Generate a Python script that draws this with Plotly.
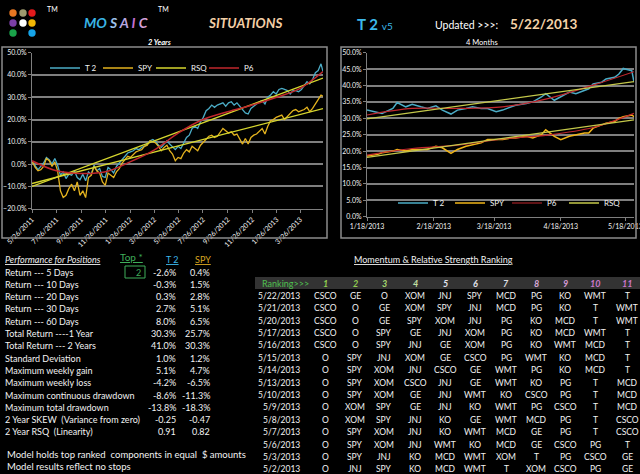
import pandas as pd
import plotly.graph_objects as go

W, H = 640, 474


def px(x):
    return x / W


def py(y):
    return 1 - y / H


# ---------------- data: 2 year chart (weekly, Fridays + last day) ----------------
t2_2y = [1.0,
         -1.0, -2.5, -1.0, 0.5,
         3.0, 2.0, 0.0, 2.5, -0.5,
         -5.0, -3.5, -6.5, -4.5,
         -5.0, -3.0, -6.0, -7.0, -4.5,
         -7.5, -3.5, -4.5, -0.5,
         -3.0, -2.0, -5.5, -6.0,
         -1.5, -2.5, -4.0, -1.0, 0.5,
         2.0, 3.5, 5.0, 5.5,
         6.0, 7.0, 6.5, 7.5,
         8.0, 9.0, 10.5, 11.0, 10.0,
         8.5, 7.5, 9.0, 10.5,
         9.0, 7.5, 6.5, 8.0,
         7.0, 9.5, 12.0, 13.0, 16.0,
         17.0, 16.0, 19.0, 21.0,
         24.0, 25.0, 26.5, 25.5, 26.5,
         27.0, 27.5, 26.0, 27.5,
         28.0, 26.5, 27.5, 26.0,
         25.0, 23.0, 22.5, 25.0, 26.0,
         27.0, 28.0, 28.5, 27.0,
         30.0, 31.0, 32.5, 31.5,
         33.5, 34.0, 33.5, 33.0,
         31.5, 33.0, 33.0, 32.5, 33.5,
         35.0, 37.0, 36.0, 38.0,
         41.0, 42.0, 45.0,
         41.5]
spy_2y = [1.0,
          -1.5, -3.0, -2.5, -1.0,
          2.5, 1.5, -1.0, 1.0, -3.0,
          -12.0, -15.0, -14.0, -11.0,
          -9.0, -12.0, -8.0, -14.0, -12.0,
          -15.0, -6.0, -5.0, -1.0,
          -3.0, -4.0, -8.0, -9.5,
          -4.0, -5.0, -6.0, -3.5, -2.0,
          0.5, 2.0, 3.5, 3.0,
          4.5, 5.5, 6.0, 6.5,
          8.0, 8.5, 10.5, 10.0, 9.5,
          8.0, 6.0, 7.5, 8.5,
          6.0, 4.5, 1.5, 3.0,
          2.5, 5.0, 6.5, 5.5, 8.0,
          7.0, 6.0, 8.5, 10.0,
          11.0, 12.5, 13.0, 12.0, 12.5,
          14.0, 16.0, 15.0, 14.0,
          14.5, 13.0, 13.5, 11.0,
          9.0, 11.5, 9.0, 12.0, 13.0,
          13.5, 15.0, 16.0, 13.5,
          17.0, 19.5, 20.0, 21.0,
          21.5, 22.0, 20.0, 21.5,
          23.0, 24.0, 24.5, 23.5, 24.0,
          24.5, 25.5, 23.5, 25.0,
          27.0, 29.0, 31.0,
          30.5]
dates_2y = list(pd.date_range("2011-05-27", periods=len(t2_2y) - 1, freq="W-FRI")) + [pd.Timestamp("2013-05-22")]

p6_2y_dates = ["2011-05-26", "2011-07-26", "2011-09-26", "2011-11-26", "2012-01-26", "2012-03-26", "2012-05-26",
               "2012-07-26", "2012-09-26", "2012-11-26", "2013-01-26", "2013-03-26", "2013-05-22"]
p6_2y = [1.5, -3.0, -4.2, -3.4, 1.0, 6.3, 14.0, 20.0, 23.5, 26.5, 30.0, 34.0, 41.5]

rsq_2y_dates = ["2011-05-26", "2013-05-22"]
rsq_t2_2y = [-10.0, 38.6]
rsq_spy_2y = [-8.7, 24.9]

ticks_2y = ["2011-05-26", "2011-07-26", "2011-09-26", "2011-11-26", "2012-01-26", "2012-03-26",
            "2012-05-26", "2012-07-26", "2012-09-26", "2012-11-26", "2013-01-26", "2013-03-26"]
ticklabels_2y = ["5/26/2011", "7/26/2011", "9/26/2011", "11/26/2011", "1/26/2012", "3/26/2012",
                 "5/26/2012", "7/26/2012", "9/26/2012", "11/26/2012", "1/26/2013", "3/26/2013"]

# ---------------- data: 4 month chart ----------------
dates_4m = ["2013-01-18", "2013-01-23", "2013-01-25", "2013-01-30", "2013-02-01", "2013-02-05", "2013-02-08",
            "2013-02-12", "2013-02-15", "2013-02-19", "2013-02-22", "2013-02-26", "2013-03-01", "2013-03-05",
            "2013-03-08", "2013-03-12", "2013-03-15", "2013-03-19", "2013-03-22", "2013-03-26", "2013-03-28",
            "2013-04-02", "2013-04-05", "2013-04-09", "2013-04-11", "2013-04-15", "2013-04-18", "2013-04-22",
            "2013-04-25", "2013-04-29", "2013-05-01", "2013-05-03", "2013-05-07", "2013-05-09", "2013-05-13",
            "2013-05-15", "2013-05-17", "2013-05-21", "2013-05-22"]
t2_4m = [32.5, 31.7, 31.5, 33.0, 34.8, 33.5, 34.3, 33.5, 33.0, 33.8, 32.5, 31.3, 32.5, 33.0, 33.5, 33.0,
         33.0, 32.0, 32.5, 33.5, 34.0, 34.5, 35.0, 36.5, 37.5, 35.5, 36.5, 38.0, 37.5, 38.5, 39.0, 40.5,
         41.0, 42.0, 42.5, 43.5, 45.2, 44.5, 41.0]
spy_4m = [18.5, 19.0, 19.5, 20.0, 20.5, 20.0, 20.5, 20.5, 20.5, 21.5, 21.0, 19.3, 20.5, 21.5, 22.0, 22.5,
          23.5, 23.5, 23.5, 24.0, 24.0, 24.5, 24.0, 25.0, 26.5, 24.5, 23.5, 24.5, 25.0, 25.5, 25.5, 27.0,
          28.0, 28.5, 29.0, 30.0, 30.5, 31.0, 30.5]

p6_4m_dates = ["2013-01-18", "2013-02-08", "2013-03-01", "2013-03-22", "2013-04-12", "2013-05-03", "2013-05-22"]
p6_t2_4m = [31.0, 33.0, 33.0, 33.5, 36.0, 40.1, 44.2]
p6_spy_4m = [18.8, 20.8, 21.8, 23.7, 24.9, 27.2, 31.5]

rsq_4m_dates = ["2013-01-18", "2013-05-22"]
rsq_t2_4m = [29.8, 41.2]
rsq_spy_4m = [18.1, 29.5]

ticks_4m = ["2013-01-18", "2013-02-18", "2013-03-18", "2013-04-18", "2013-05-18"]
ticklabels_4m = ["1/18/2013", "2/18/2013", "3/18/2013", "4/18/2013", "5/18/2013"]

# ---------------- data: performance table ----------------
perf_labels = ["Return --- 5 Days", "Return --- 10 Days", "Return --- 20 Days", "Return --- 30 Days",
               "Return --- 60 Days", "Total Return ----1 Year", "Total Return --- 2 Years", "Standard Deviation",
               "Maximum weekly gain", "Maximum weekly loss", "Maximum continuous drawdown",
               "Maximum total drawdown", "2 Year SKEW  (Variance from zero)", "2 Year RSQ  (Linearity)"]
perf_t2 = ["-2.6%", "-0.3%", "0.3%", "2.7%", "8.0%", "30.3%", "41.0%", "1.0%", "5.1%", "-4.2%", "-8.6%",
           "-13.8%", "-0.25", "0.91"]
perf_spy = ["0.4%", "1.5%", "2.8%", "5.1%", "6.5%", "25.7%", "30.3%", "1.2%", "4.7%", "-6.5%", "-11.3%",
            "-18.3%", "-0.47", "0.82"]
top_n = "2"

# ---------------- data: ranking table ----------------
rank_nums = ["1", "2", "3", "4", "5", "6", "7", "8", "9", "10", "11"]
rank_dates = ["5/22/2013", "5/21/2013", "5/20/2013", "5/17/2013", "5/16/2013", "5/15/2013", "5/14/2013",
              "5/13/2013", "5/10/2013", "5/9/2013", "5/8/2013", "5/7/2013", "5/6/2013", "5/3/2013", "5/2/2013"]
rankings = [
    ["CSCO", "GE", "O", "XOM", "JNJ", "SPY", "MCD", "PG", "KO", "WMT", "T"],
    ["CSCO", "O", "GE", "XOM", "SPY", "JNJ", "MCD", "PG", "KO", "T", "WMT"],
    ["CSCO", "O", "GE", "SPY", "XOM", "JNJ", "PG", "KO", "MCD", "T", "WMT"],
    ["CSCO", "O", "SPY", "GE", "JNJ", "XOM", "PG", "KO", "MCD", "WMT", "T"],
    ["CSCO", "O", "SPY", "JNJ", "GE", "XOM", "PG", "KO", "WMT", "MCD", "T"],
    ["O", "SPY", "JNJ", "XOM", "GE", "CSCO", "PG", "WMT", "KO", "MCD", "T"],
    ["O", "SPY", "XOM", "JNJ", "CSCO", "GE", "WMT", "PG", "KO", "MCD", "T"],
    ["O", "SPY", "XOM", "CSCO", "JNJ", "GE", "WMT", "KO", "PG", "T", "MCD"],
    ["O", "SPY", "XOM", "GE", "JNJ", "WMT", "KO", "CSCO", "PG", "T", "MCD"],
    ["O", "XOM", "SPY", "GE", "JNJ", "KO", "WMT", "PG", "CSCO", "T", "MCD"],
    ["O", "XOM", "SPY", "JNJ", "KO", "GE", "WMT", "MCD", "PG", "T", "CSCO"],
    ["O", "SPY", "XOM", "JNJ", "KO", "WMT", "MCD", "GE", "PG", "T", "CSCO"],
    ["O", "SPY", "XOM", "JNJ", "WMT", "KO", "MCD", "GE", "CSCO", "PG", "T"],
    ["O", "SPY", "JNJ", "KO", "MCD", "WMT", "XOM", "T", "PG", "CSCO", "GE"],
    ["O", "JNJ", "SPY", "KO", "MCD", "WMT", "T", "XOM", "CSCO", "PG", "GE"],
]

BLUE = "#4bacc6"
GOLD = "#e3b21e"
RSQC = "#d6d62e"
RSQC2 = "#c4c84a"
RED = "#c0272d"
FONT = "Lato"
TXT = "#f2f2f2"
GRID = "#7f7f7f"

fig = go.Figure()

# left chart
fig.add_trace(go.Scatter(x=dates_2y, y=t2_2y, name="T 2", mode="lines", line=dict(color=BLUE, width=1.3),
                         xaxis="x", yaxis="y", legend="legend"))
fig.add_trace(go.Scatter(x=dates_2y, y=spy_2y, name="SPY", mode="lines", line=dict(color=GOLD, width=1.3),
                         xaxis="x", yaxis="y", legend="legend"))
fig.add_trace(go.Scatter(x=rsq_2y_dates, y=rsq_t2_2y, name="RSQ", mode="lines", line=dict(color=RSQC, width=1.3),
                         xaxis="x", yaxis="y", legend="legend"))
fig.add_trace(go.Scatter(x=rsq_2y_dates, y=rsq_spy_2y, name="RSQ", mode="lines", line=dict(color=RSQC, width=1.3),
                         xaxis="x", yaxis="y", showlegend=False))
fig.add_trace(go.Scatter(x=p6_2y_dates, y=p6_2y, name="P6", mode="lines",
                         line=dict(color=RED, width=1.5, shape="spline"), xaxis="x", yaxis="y", legend="legend"))

# right chart
fig.add_trace(go.Scatter(x=dates_4m, y=t2_4m, name="T 2", mode="lines", line=dict(color=BLUE, width=1.5),
                         xaxis="x2", yaxis="y2", legend="legend2"))
fig.add_trace(go.Scatter(x=dates_4m, y=spy_4m, name="SPY", mode="lines", line=dict(color="#f0b418", width=1.5),
                         xaxis="x2", yaxis="y2", legend="legend2"))
fig.add_trace(go.Scatter(x=p6_4m_dates, y=p6_t2_4m, name="P6", mode="lines",
                         line=dict(color=RED, width=1.2, shape="spline"), xaxis="x2", yaxis="y2", legend="legend2"))
fig.add_trace(go.Scatter(x=p6_4m_dates, y=p6_spy_4m, name="P6", mode="lines",
                         line=dict(color=RED, width=1.2, shape="spline"), xaxis="x2", yaxis="y2", showlegend=False))
fig.add_trace(go.Scatter(x=rsq_4m_dates, y=rsq_t2_4m, name="RSQ", mode="lines", line=dict(color=RSQC2, width=1.3),
                         xaxis="x2", yaxis="y2", legend="legend2"))
fig.add_trace(go.Scatter(x=rsq_4m_dates, y=rsq_spy_4m, name="RSQ", mode="lines", line=dict(color=RSQC2, width=1.3),
                         xaxis="x2", yaxis="y2", showlegend=False))

axis_common = dict(showline=True, linecolor=GRID, linewidth=1, tickfont=dict(family=FONT, size=7, color=TXT),
                   zeroline=False, ticks="outside", ticklen=3, tickcolor=GRID, automargin=False)

fig.update_layout(
    width=W, height=H, margin=dict(l=0, r=0, t=0, b=0, autoexpand=False),
    paper_bgcolor="black", plot_bgcolor="black",
    font=dict(family=FONT, color=TXT),
    xaxis=dict(domain=[px(32), px(323)], anchor="y", type="date", range=["2011-05-26", "2013-05-22"],
               tickvals=ticks_2y, ticktext=ticklabels_2y, tickangle=-45, showgrid=False, **axis_common),
    yaxis=dict(domain=[py(208.7), py(52.7)], anchor="x", range=[-20, 50], dtick=10, tickformat=".1f",
               ticksuffix="%", showgrid=True, gridcolor=GRID, gridwidth=1.5, **axis_common),
    xaxis2=dict(domain=[px(367), px(634)], anchor="y2", type="date", range=["2013-01-18", "2013-05-22"],
                tickvals=ticks_4m, ticktext=ticklabels_4m, tickangle=0, showgrid=False,
                ticklabeloverflow="allow", **axis_common),
    yaxis2=dict(domain=[py(216.7), py(52.7)], anchor="x2", range=[0, 50], dtick=5, tickformat=".1f",
                ticksuffix="%", showgrid=True, gridcolor=GRID, gridwidth=1.5, **axis_common),
    legend=dict(orientation="h", x=px(45), y=py(68), xanchor="left", yanchor="middle",
                bgcolor="rgba(0,0,0,0)", font=dict(family=FONT, size=8, color=TXT),
                entrywidth=8, entrywidthmode="pixels", itemwidth=30, tracegroupgap=0),
    legend2=dict(orientation="h", x=px(393), y=py(203), xanchor="left", yanchor="middle",
                 bgcolor="rgba(0,0,0,0)", font=dict(family=FONT, size=8, color=TXT),
                 entrywidth=12, entrywidthmode="pixels", itemwidth=30, tracegroupgap=0),
)

shapes = []
# chart area boxes
shapes.append(dict(type="rect", xref="paper", yref="paper", x0=px(2), x1=px(327), y0=py(238), y1=py(47),
                   line=dict(color="#8c8c8c", width=1.5)))
shapes.append(dict(type="rect", xref="paper", yref="paper", x0=px(341), x1=px(636), y0=py(238), y1=py(47),
                   line=dict(color="#8c8c8c", width=1.5)))
# logo dots
dot_spec = [(13, 13, "#e87722"), (23, 13, "#9e9a6e"), (32, 13, "#e31a1c"),
            (13, 23, "#7b3fa6"), (23, 23, "#ffffff"), (32, 23, "#f2b705"),
            (13, 33, "#1aa34a"), (32, 33, "#16a4e8")]
for cx, cy, col in dot_spec:
    shapes.append(dict(type="circle", xref="paper", yref="paper", x0=px(cx - 3.7), x1=px(cx + 3.7),
                       y0=py(cy + 3.7), y1=py(cy - 3.7), fillcolor=col, line=dict(width=0)))
# ranking header stripe
shapes.append(dict(type="rect", xref="paper", yref="paper", x0=px(255), x1=px(640), y0=py(289), y1=py(277),
                   fillcolor="#333333", line=dict(width=0), layer="below"))
# top-n box
shapes.append(dict(type="rect", xref="paper", yref="paper", x0=px(125), x1=px(145), y0=py(278), y1=py(266),
                   line=dict(color="#3fae5a", width=1)))
fig.update_layout(shapes=shapes)

ann = []


def text(x, y, s, size=9, color=TXT, anchor="left"):
    ann.append(dict(x=px(x), y=py(y), xref="paper", yref="paper", text=s, showarrow=False,
                    xanchor=anchor, yanchor="middle", font=dict(family=FONT, size=size, color=color)))


# header
text(52, 9, "TM", 7, "#ffffff", "center")
text(163, 9, "TM", 7, "#ffffff", "center")
text(116, 23, "<b><i><span style='color:#39b5e5'>MO</span> <span style='color:#9cc3ea'>S</span> "
     "<span style='color:#b9a6e0'>A</span> <span style='color:#c46fd1'>I</span> "
     "<span style='color:#d5a0d8'>C</span></i></b>", 14, "#39b5e5", "center")
text(245, 23, "<b><i>SITUATIONS</i></b>", 13.5, "#f3cfa6", "center")
text(355, 24, "<b>T 2</b> <span style='font-size:10px'>v5</span>", 15, "#3cb8ea", "left")
text(433, 25, "Updated >>>:", 10.5, "#ffffff", "left")
text(508, 24, "<b>5/22/2013</b>", 13.5, "#f5d3a8", "left")
text(159, 42, "<b><i>2 Years</i></b>", 7.5, "#ffffff", "center")
text(482, 42, "4 Months", 7.5, "#ffffff", "center")

# performance table
text(3, 259, "<i><u>Performance for Positions</u></i>", 9)
text(131, 257, "<u>Top *</u>", 10, "#3fae5a", "center")
text(172, 259, "<u>T 2</u>", 9, "#3cb8ea", "center")
text(203, 259, "<u>SPY</u>", 9, "#d9a521", "center")
text(143, 272, top_n, 9, "#3fae5a", "right")
for i, lab in enumerate(perf_labels):
    yy = 272 + i * 12.3
    text(3, yy, lab, 9)
    text(178, yy, perf_t2[i], 9, TXT, "right")
    text(212, yy, perf_spy[i], 9, TXT, "right")
text(5, 454, "Model holds top ranked  components in equal  $ amounts", 9.5)
text(5, 466, "Model results reflect no stops", 9.5)

# ranking table
text(433, 259, "<u>Momentum & Relative Strength Ranking</u>", 9, TXT, "center")
text(260, 283, "Ranking>>>", 9, "#4fc04f", "left")
col_x = [325, 355, 384, 415, 445, 475, 506, 536, 565, 595, 627]
num_colors = ["#92d050", "#92d050", "#a6d870", "#c4e0a4", "#e6e6f0", "#e6e6f0", "#e0e0e8",
              "#d8a8d8", "#d49ad4", "#cc77cc", "#cc77cc"]
for j, n in enumerate(rank_nums):
    text(col_x[j], 283, "<b><i>" + n + "</i></b>", 9, num_colors[j], "center")
for i, d in enumerate(rank_dates):
    yy = 295.7 + i * 12.4
    text(302, yy, d, 8.5, TXT, "right")
    for j, tk in enumerate(rankings[i]):
        text(col_x[j], yy, tk, 8.5, TXT, "center")

fig.update_layout(annotations=ann)

fig.write_html("out.html", config={"displayModeBar": False},
               post_script="document.body.style.margin='0px';")
